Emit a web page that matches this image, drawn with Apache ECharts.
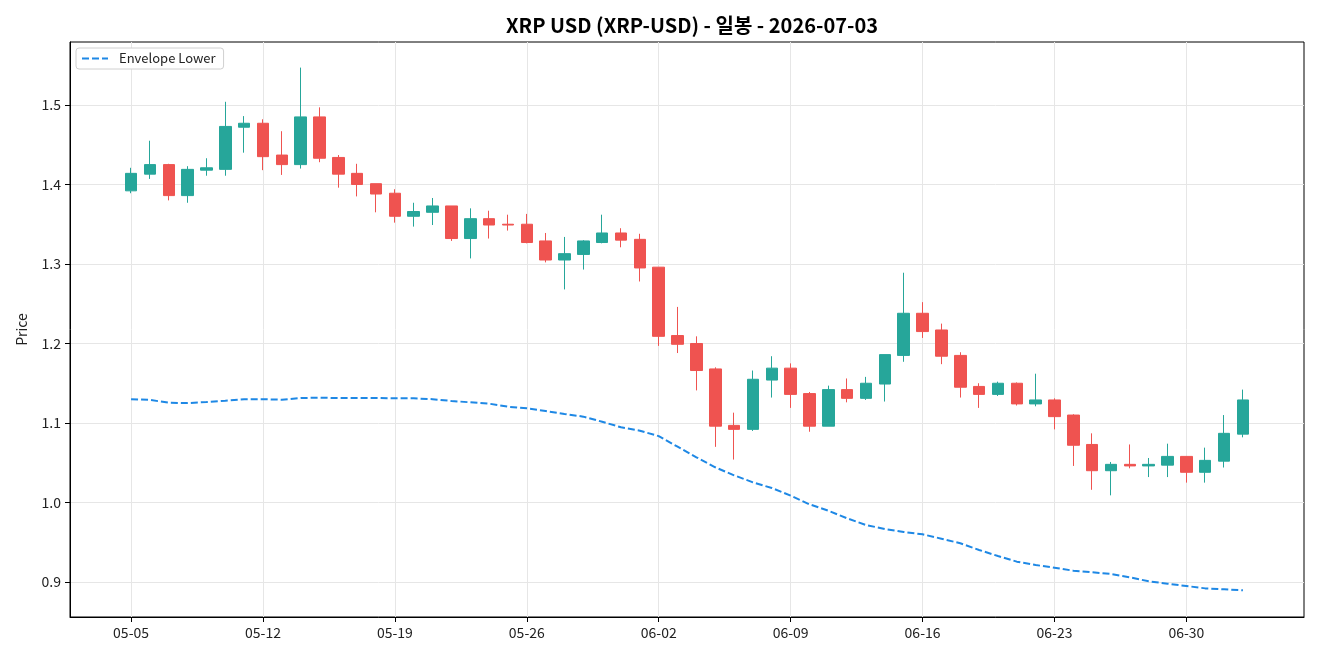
<!DOCTYPE html>
<html>
<head>
<meta charset="utf-8">
<script src="https://cdn.jsdelivr.net/npm/echarts@6/dist/echarts.min.js"></script>
<style>
html,body{margin:0;padding:0;background:#fff;}
#chart{width:1320px;height:660px;}
</style>
</head>
<body>
<div id="chart"></div>
<script>
const dates = ['05-05','05-06','05-07','05-08','05-09','05-10','05-11','05-12','05-13','05-14','05-15','05-16','05-17','05-18','05-19','05-20','05-21','05-22','05-23','05-24','05-25','05-26','05-27','05-28','05-29','05-30','05-31','06-01','06-02','06-03','06-04','06-05','06-06','06-07','06-08','06-09','06-10','06-11','06-12','06-13','06-14','06-15','06-16','06-17','06-18','06-19','06-20','06-21','06-22','06-23','06-24','06-25','06-26','06-27','06-28','06-29','06-30','07-01','07-02','07-03'];
const openVals  = [1.392,1.413,1.425,1.386,1.418,1.419,1.472,1.477,1.437,1.425,1.485,1.434,1.414,1.401,1.389,1.360,1.365,1.373,1.332,1.357,1.350,1.350,1.329,1.305,1.312,1.327,1.339,1.331,1.296,1.210,1.200,1.168,1.097,1.092,1.154,1.169,1.137,1.096,1.142,1.131,1.149,1.185,1.238,1.217,1.185,1.146,1.136,1.150,1.124,1.129,1.110,1.073,1.040,1.048,1.046,1.047,1.058,1.038,1.052,1.086];
const closeVals = [1.414,1.425,1.386,1.419,1.421,1.473,1.477,1.435,1.425,1.485,1.433,1.413,1.400,1.388,1.360,1.366,1.373,1.332,1.357,1.349,1.349,1.327,1.305,1.313,1.329,1.339,1.330,1.295,1.209,1.199,1.166,1.096,1.092,1.155,1.169,1.136,1.096,1.142,1.131,1.150,1.186,1.238,1.215,1.184,1.145,1.136,1.150,1.124,1.129,1.108,1.072,1.040,1.048,1.046,1.048,1.058,1.038,1.053,1.087,1.129];
const lowVals   = [1.389,1.407,1.380,1.377,1.411,1.411,1.440,1.418,1.412,1.420,1.428,1.396,1.385,1.365,1.352,1.347,1.349,1.329,1.307,1.332,1.342,1.326,1.302,1.268,1.293,1.326,1.321,1.278,1.197,1.188,1.141,1.070,1.054,1.090,1.132,1.119,1.089,1.096,1.126,1.129,1.127,1.177,1.207,1.174,1.132,1.119,1.134,1.122,1.121,1.092,1.046,1.016,1.009,1.043,1.032,1.032,1.025,1.025,1.044,1.082];
const highVals  = [1.421,1.455,1.426,1.423,1.433,1.504,1.486,1.482,1.467,1.547,1.497,1.437,1.426,1.401,1.394,1.377,1.383,1.373,1.370,1.367,1.362,1.363,1.339,1.334,1.330,1.362,1.345,1.338,1.296,1.246,1.209,1.170,1.113,1.166,1.184,1.175,1.139,1.147,1.156,1.158,1.186,1.289,1.252,1.225,1.189,1.150,1.152,1.151,1.162,1.131,1.111,1.087,1.051,1.073,1.056,1.074,1.058,1.069,1.110,1.142];
const envelopeLower = [1.130,1.129,1.1255,1.125,1.1264,1.128,1.130,1.130,1.1293,1.1314,1.1318,1.1314,1.1314,1.1314,1.131,1.131,1.130,1.1277,1.126,1.1243,1.1205,1.1185,1.115,1.1113,1.108,1.1016,1.0946,1.0903,1.0835,1.0702,1.0569,1.0443,1.0342,1.0254,1.0182,1.0086,0.9977,0.9897,0.9801,0.9717,0.9667,0.9629,0.960,0.9545,0.9487,0.9403,0.9327,0.9256,0.9214,0.918,0.9142,0.9122,0.9101,0.9059,0.9009,0.8979,0.895,0.892,0.8908,0.8896];
const xTickIdx = [0,7,14,21,28,35,42,49,56];
const yTicks = [0.9,1.0,1.1,1.2,1.3,1.4,1.5];

const candleData = dates.map((d,i)=>[i, openVals[i], closeVals[i], lowVals[i], highVals[i]]);
const lineData = envelopeLower.map((v,i)=>[i, v]);

const UP = '#26a69a', DOWN = '#ef5350';
const FONT = '"Noto Sans CJK KR", "Noto Sans", sans-serif';

const chart = echarts.init(document.getElementById('chart'), null, {renderer:'canvas'});
chart.setOption({
  animation: false,
  backgroundColor: '#fff',
  textStyle: {fontFamily: FONT},
  title: {
    text: 'XRP USD (XRP-USD) - 일봉 - 2026-07-03',
    left: 687, top: 10, textAlign: 'center',
    textStyle: {fontSize: 20, fontWeight: 'bold', color: '#000', fontFamily: FONT}
  },
  legend: {
    left: 76, top: 48,
    orient: 'vertical',
    backgroundColor: '#fff',
    borderColor: '#d0d0d0', borderWidth: 1, borderRadius: 3,
    padding: [4, 8, 4, 6],
    itemWidth: 26, itemHeight: 2, itemGap: 4,
    textStyle: {fontSize: 13, color: '#222', fontFamily: FONT, padding: [0, 0, 0, 6]},
    data: [{name: 'Envelope Lower', icon: 'path://M0,0H7V2H0Z M10,0H17V2H10Z M20,0H26V2H20Z'}]
  },
  grid: {
    left: 70, right: 16, top: 42, bottom: 43,
    show: true, borderColor: '#000', borderWidth: 1, backgroundColor: 'transparent'
  },
  xAxis: {
    type: 'value',
    min: -3.24, max: 62.24,
    axisLine: {show: true, onZero: false, lineStyle: {color: '#000', width: 1}},
    axisTick: {show: true, length: 5, lineStyle: {color: '#000'}, customValues: xTickIdx},
    axisLabel: {
      customValues: xTickIdx, margin: 9, fontSize: 14, color: '#222', fontFamily: FONT,
      formatter: v => dates[Math.round(v)] || ''
    },
    splitLine: {show: true, lineStyle: {color: '#e6e6e6', width: 1}}
  },
  yAxis: {
    type: 'value',
    min: 0.856, max: 1.5792,
    name: 'Price', nameLocation: 'middle', nameGap: 41, nameRotate: 90,
    nameTextStyle: {fontSize: 14, color: '#222', fontFamily: FONT},
    axisLine: {show: true, onZero: false, lineStyle: {color: '#000', width: 1}},
    axisTick: {show: true, length: 5, lineStyle: {color: '#000'}, customValues: yTicks},
    axisLabel: {
      customValues: yTicks, margin: 9, fontSize: 14, color: '#222', fontFamily: FONT,
      formatter: v => v.toFixed(1)
    },
    splitLine: {show: true, lineStyle: {color: '#e6e6e6', width: 1}}
  },
  series: [
    {
      name: 'Candles',
      type: 'candlestick',
      data: candleData,
      dimensions: ['idx','open','close','lowest','highest'],
      encode: {x: 'idx', y: ['open','close','lowest','highest']},
      barWidth: 12,
      itemStyle: {
        color: UP, color0: DOWN,
        borderColor: UP, borderColor0: DOWN,
        borderColorDoji: UP,
        borderWidth: 1
      },
      z: 3
    },
    {
      name: 'Envelope Lower',
      type: 'line',
      data: lineData,
      symbol: 'none',
      showSymbol: false,
      lineStyle: {color: '#1e88e5', width: 2, type: [7, 3]},
      itemStyle: {color: '#1e88e5'},
      z: 4
    }
  ]
});
</script>
</body>
</html>
